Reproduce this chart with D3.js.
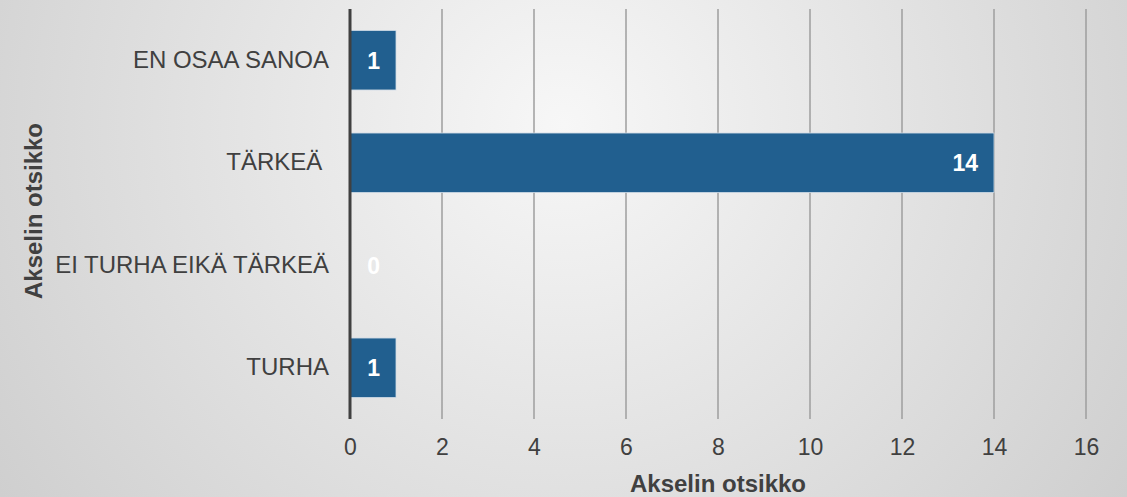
<!DOCTYPE html>
<html>
<head>
<meta charset="utf-8">
<script src="https://cdn.jsdelivr.net/npm/d3@7"></script>
<style>
  body { margin: 0; padding: 0; }
  svg { display: block; font-family: "Liberation Sans", Arial, sans-serif; }
</style>
</head>
<body>
<div id="chart"></div>
<script>
// chart data
const categories = ["EN OSAA SANOA", "TÄRKEÄ ", "EI TURHA EIKÄ TÄRKEÄ", "TURHA"] ;
const values = [1, 14, 0, 1] ;
const xTicks = [0, 2, 4, 6, 8, 10, 12, 14, 16] ;
const xTitle = "Akselin otsikko" ;
const yTitle = "Akselin otsikko" ;

function drawChart() {
  let dimensions = {
    width: 1127,
    height: 497,
    margin: { top: 9, right: 41, bottom: 78, left: 350 },
  }
  dimensions.boundedWidth = dimensions.width - dimensions.margin.left - dimensions.margin.right
  dimensions.boundedHeight = dimensions.height - dimensions.margin.top - dimensions.margin.bottom

  const svg = d3.select("#chart").append("svg")
      .attr("width", dimensions.width)
      .attr("height", dimensions.height)
  ;

  // background gradient
  const defs = svg.append("defs") ;
  const grad = defs.append("radialGradient")
      .attr("id", "bg")
      .attr("cx", "50%").attr("cy", "25%").attr("r", "80%")
      .attr("gradientTransform", "translate(0.5,0.25) scale(1,2.2) translate(-0.5,-0.25)") ;
  grad.append("stop").attr("offset", "0%").attr("stop-color", "#f7f7f7") ;
  grad.append("stop").attr("offset", "100%").attr("stop-color", "#c2c2c2") ;

  svg.append("rect")
      .attr("width", dimensions.width)
      .attr("height", dimensions.height)
      .attr("fill", "url(#bg)") ;

  const bounds = svg.append("g")
      .attr("transform", `translate(${dimensions.margin.left},${dimensions.margin.top})`) ;

  const xScale = d3.scaleLinear()
    .domain([0, 16])
    .range([0, dimensions.boundedWidth]) ;

  const yScale = d3.scaleBand()
    .domain(categories)
    .range([0, dimensions.boundedHeight])
    .paddingInner(0.42)
    .paddingOuter(0.21) ;

  // gridlines
  bounds.append("g")
    .selectAll("line")
    .data(xTicks.filter(d => d > 0))
    .enter().append("line")
      .attr("x1", d => xScale(d))
      .attr("x2", d => xScale(d))
      .attr("y1", 0)
      .attr("y2", dimensions.boundedHeight)
      .attr("stroke", "#9e9e9e")
      .attr("stroke-width", 1.5) ;

  // bars
  bounds.append("g")
    .selectAll("rect")
    .data(values)
    .enter().append("rect")
      .attr("x", xScale(0))
      .attr("y", (d, i) => yScale(categories[i]))
      .attr("width", d => xScale(d) - xScale(0))
      .attr("height", yScale.bandwidth())
      .attr("fill", "#215f8f")
      .attr("fill-opacity", d => d > 0 ? 1 : 0)
      .attr("stroke", "#cfdbe6")
      .attr("stroke-width", d => d > 0 ? 0.8 : 0) ;

  // value labels (inside end)
  bounds.append("g")
    .selectAll("text")
    .data(values)
    .enter().append("text")
      .attr("x", d => Math.max(xScale(d), xScale(1)) - 16)
      .attr("y", (d, i) => yScale(categories[i]) + yScale.bandwidth() / 2)
      .attr("dy", "0.36em")
      .attr("text-anchor", "end")
      .attr("fill", "#ffffff")
      .attr("font-size", 23)
      .attr("font-weight", "bold")
      .text(d => d) ;

  // x axis
  const xAxis = bounds.append("g")
    .attr("transform", `translate(0,${dimensions.boundedHeight})`)
    .call(d3.axisBottom(xScale).tickValues(xTicks).tickSize(0).tickPadding(20)) ;
  xAxis.select(".domain").remove() ;
  xAxis.selectAll("text")
    .attr("fill", "#404040")
    .attr("font-size", 23)
    .attr("font-family", "Liberation Sans, Arial, sans-serif") ;

  // y axis
  const yAxis = bounds.append("g")
    .call(d3.axisLeft(yScale).tickSize(0).tickPadding(21)) ;
  yAxis.select(".domain").remove() ;
  yAxis.selectAll("text")
    .attr("fill", "#404040")
    .attr("font-size", 24)
    .attr("font-family", "Liberation Sans, Arial, sans-serif")
    .style("white-space", "pre")
    .attr("xml:space", "preserve") ;

  // vertical axis line
  bounds.append("line")
    .attr("x1", xScale(0)).attr("x2", xScale(0))
    .attr("y1", 0).attr("y2", dimensions.boundedHeight)
    .attr("stroke", "#404040")
    .attr("stroke-width", 3) ;

  // axis titles
  svg.append("text")
    .attr("x", dimensions.margin.left + dimensions.boundedWidth / 2)
    .attr("y", 492)
    .attr("text-anchor", "middle")
    .attr("fill", "#404040")
    .attr("font-size", 24)
    .attr("font-weight", "bold")
    .text(xTitle) ;

  svg.append("text")
    .attr("transform", `translate(42,${dimensions.margin.top + dimensions.boundedHeight / 2 - 3}) rotate(-90)`)
    .attr("text-anchor", "middle")
    .attr("fill", "#404040")
    .attr("font-size", 24)
    .attr("font-weight", "bold")
    .text(yTitle) ;
}

drawChart() ;
</script>
</body>
</html>
